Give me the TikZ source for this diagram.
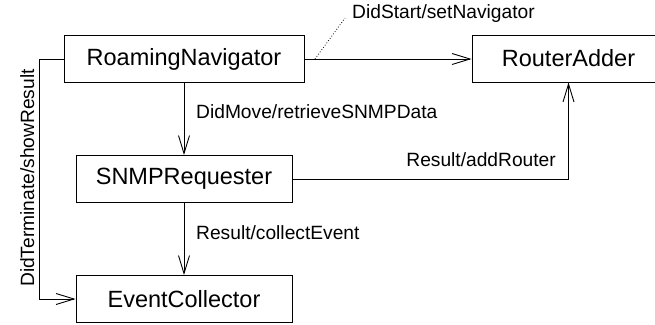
\documentclass[tikz,border=0pt]{standalone}
\usepackage{fontspec}
\setmainfont{Liberation Sans}
\usetikzlibrary{arrows.meta}
\begin{document}
\begin{tikzpicture}[x=1pt,y=-1pt,
  box/.style={draw, line width=0.9pt, minimum width=#1, minimum height=47pt,
    inner sep=0pt, font=\fontsize{23.5}{28}\selectfont},
  lbl/.style={font=\fontsize{19.2}{23}\selectfont, inner sep=0pt},
  link/.style={line width=0.9pt},
  tip/.style={-{Straight Barb[length=18pt,width=11pt]}}]
\useasboundingbox (0,0) rectangle (655,324);
\clip (0,0) rectangle (655,324);

% states
\node[box=240pt] (rn) at (184,59)    {RoamingNavigator};
\node[box=193pt] (ra) at (568.5,58.5) {RouterAdder};
\node[box=216pt] (sr) at (184,179)   {SNMPRequester};
\node[box=216pt] (ec) at (184,299)   {EventCollector};

% transitions
\draw[link,tip] (rn.west) -- ++(-24,0) |- (ec.west);
\draw[link,tip] (rn) -- (sr);
\draw[link,tip] (sr) -- (ec);
\draw[link,tip] (rn.east) -- (rn.east -| ra.west);
\draw[link,tip] (sr.east) -| (ra.south);

% transition labels
\coordinate (dsfoot) at (315,59);
\coordinate (dshead) at (345,18);
\draw[dotted, line width=0.8pt] (dsfoot) -- (dshead);
\node[lbl, anchor=base west] (lstart) at (352,18) {DidStart/setNavigator};
\node[lbl, anchor=base west] (lmove) at (196,118) {DidMove/retrieveSNMPData};
\node[lbl, anchor=base east] (ladd) at (556,166.5) {Result/addRouter};
\node[lbl, anchor=base west] (lcoll) at (196,239) {Result/collectEvent};
\node[lbl, anchor=base, rotate=90] (lterm) at (34,178) {DidTerminate/showResult};
\end{tikzpicture}
\end{document}
